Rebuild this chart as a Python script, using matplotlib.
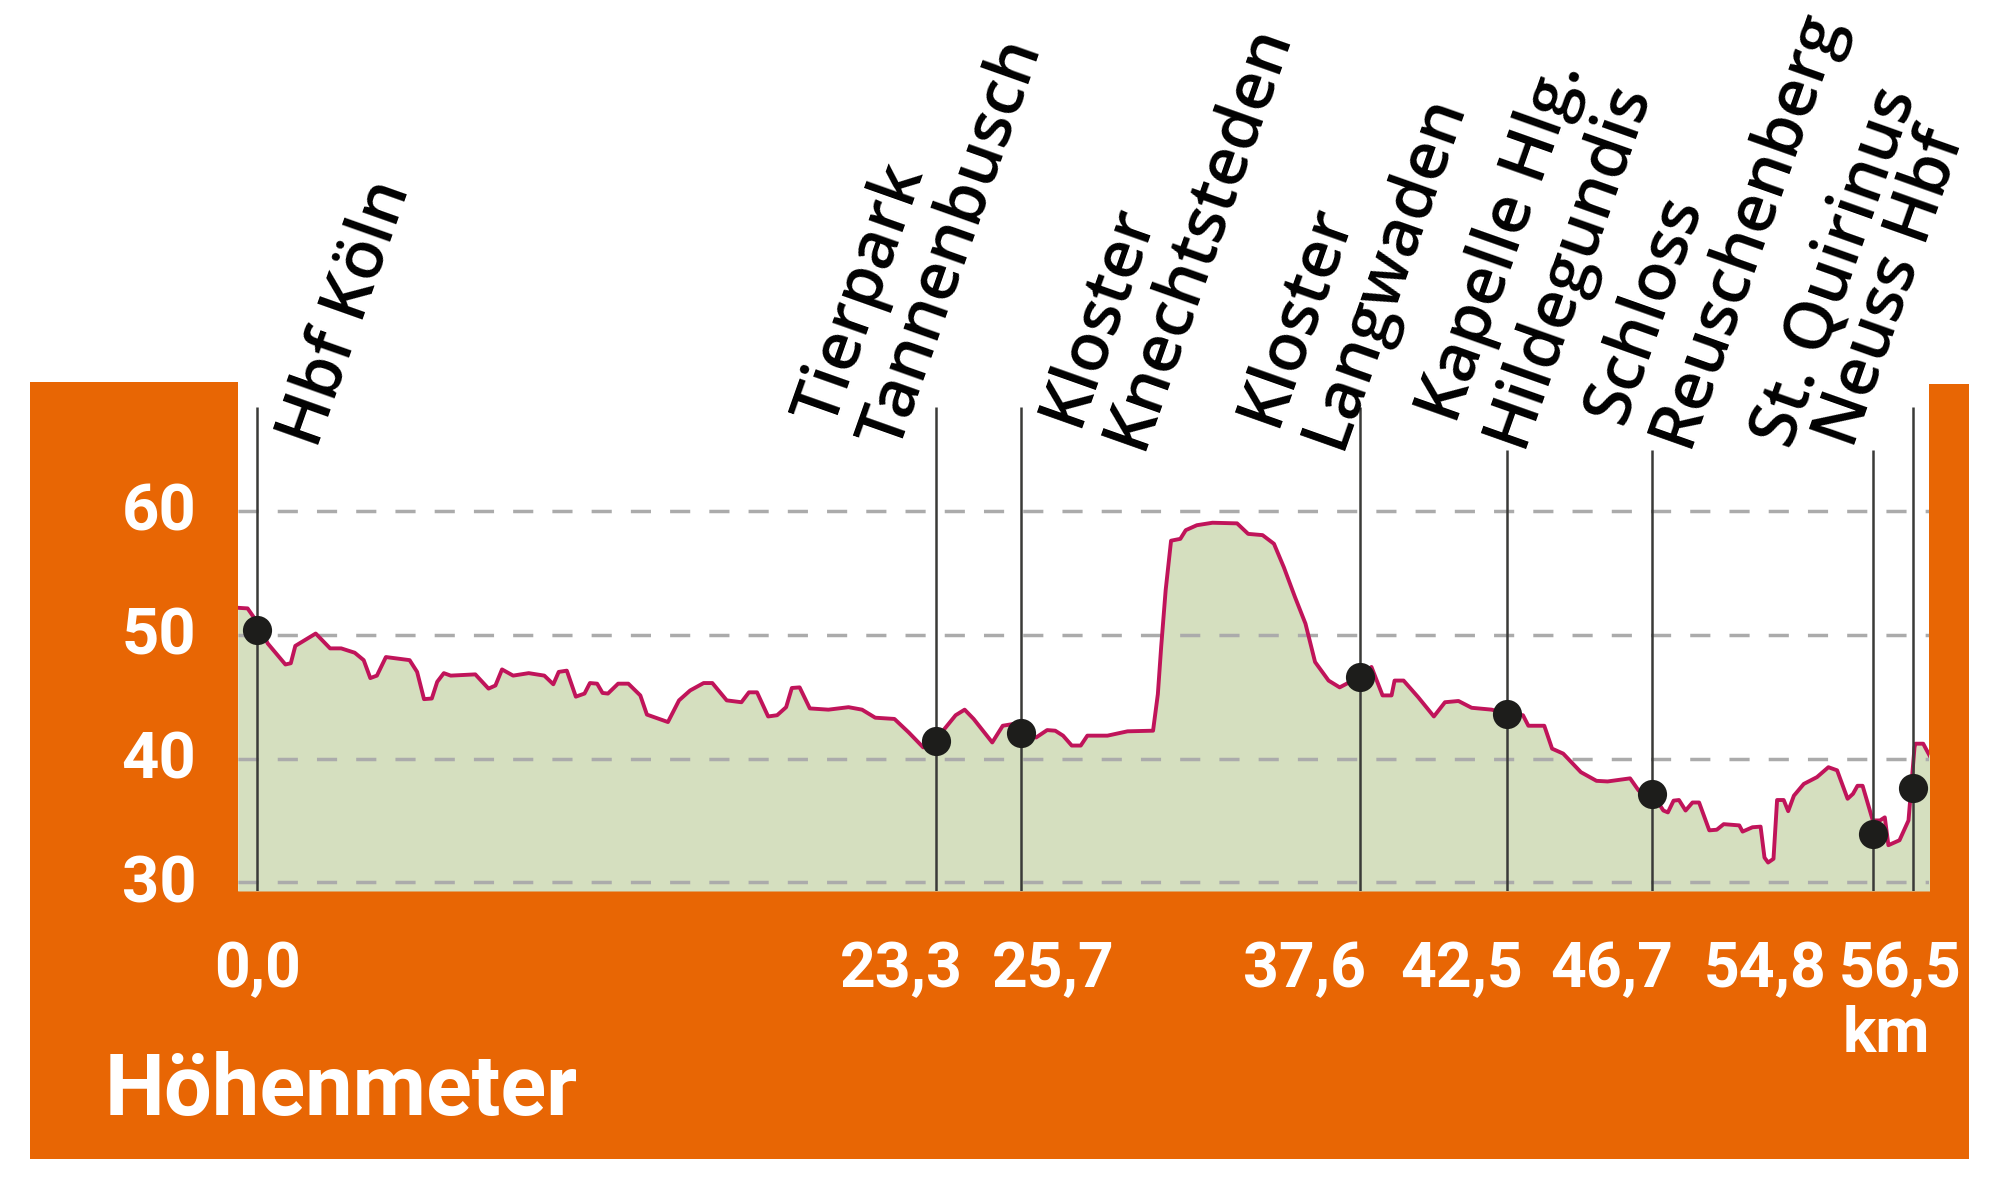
import matplotlib
matplotlib.use("Agg")
import matplotlib.pyplot as plt
from matplotlib.patches import Rectangle
from matplotlib.transforms import ScaledTranslation

# profile: position along the drawing, height in m
profile_x = [-0.64, -0.31, 0.0, 0.36, 0.95, 1.13, 1.28, 1.96, 2.44, 2.81, 3.26, 3.56, 3.78, 4.0, 4.3,
             5.09, 5.34, 5.57, 5.83, 6.01, 6.23, 6.46, 7.28, 7.72, 7.95, 8.17, 8.54, 9.06, 9.58, 9.88,
             10.06, 10.33, 10.63, 10.92, 11.1, 11.34, 11.52, 11.7, 12.04, 12.38, 12.78, 13.0, 13.7, 14.07,
             14.44, 14.89, 15.18, 15.66, 16.15, 16.4, 16.67, 17.04, 17.34, 17.64, 17.83, 18.09, 18.43, 19.05,
             19.72, 20.17, 20.61, 21.25, 21.73, 22.21, 22.62, 22.92, 23.29, 23.59, 23.89, 24.51, 24.86, 25.23,
             25.48, 25.97, 26.34, 26.61, 26.87, 27.16, 27.46, 27.68, 28.35, 29.02, 29.87, 30.03, 30.14, 30.29,
             30.47, 30.78, 30.96, 31.33, 31.85, 32.67, 33.04, 33.52, 33.9, 34.23, 34.6, 34.95, 35.27, 35.72,
             36.09, 36.76, 37.15, 37.52, 37.82, 37.92, 38.22, 38.71, 39.23, 39.6, 40.05, 40.49, 41.16, 41.66,
             42.2, 42.38, 42.91, 43.17, 43.54, 44.13, 44.65, 45.02, 45.77, 46.06, 46.51, 46.88, 47.03, 47.22,
             47.4, 47.62, 47.85, 48.07, 48.41, 48.66, 48.89, 49.41, 49.52, 49.85, 50.12, 50.25, 50.37, 50.55,
             50.67, 50.89, 51.04, 51.23, 51.56, 52.0, 52.38, 52.67, 53.02, 53.2, 53.35, 53.52, 53.86, 54.1,
             54.26, 54.38, 54.75, 55.05, 55.25, 55.28, 55.54, 55.75]
profile_h = [52.18, 52.13, 51.05, 49.3, 47.6, 47.7, 49.1, 50.1, 48.9, 48.9, 48.55, 47.95, 46.5, 46.7, 48.2,
             47.95, 47.0, 44.8, 44.85, 46.2, 46.9, 46.7, 46.8, 45.65, 45.9, 47.2, 46.7, 46.9, 46.7, 46.0,
             47.0, 47.1, 45.0, 45.25, 46.1, 46.05, 45.3, 45.25, 46.05, 46.05, 45.1, 43.55, 42.95, 44.7,
             45.5, 46.1, 46.1, 44.7, 44.55, 45.35, 45.35, 43.4, 43.5, 44.15, 45.7, 45.75, 44.05, 43.95,
             44.15, 43.95, 43.3, 43.2, 42.1, 40.9, 41.45, 42.4, 43.5, 43.95, 43.2, 41.3, 42.65, 42.8,
             42.1, 41.7, 42.3, 42.25, 41.85, 41.05, 41.05, 41.85, 41.85, 42.2, 42.25, 45.2, 49.0, 53.6,
             57.6, 57.75, 58.45, 58.85, 59.05, 59.0, 58.15, 58.05, 57.35, 55.45, 53.05, 50.9, 47.8, 46.3,
             45.75, 46.6, 47.4, 45.1, 45.1, 46.3, 46.3, 44.95, 43.4, 44.55, 44.65, 44.1, 43.95, 43.6,
             43.5, 42.65, 42.65, 40.8, 40.4, 38.9, 38.2, 38.15, 38.4, 37.4, 37.15, 35.8, 35.65, 36.6,
             36.65, 35.8, 36.45, 36.45, 34.2, 34.25, 34.7, 34.6, 34.1, 34.45, 34.5, 32.0, 31.6, 31.9,
             36.65, 36.65, 35.75, 37.0, 37.95, 38.5, 39.3, 39.05, 36.75, 37.15, 37.8, 37.8, 35.0, 35.0,
             35.25, 33.0, 33.4, 35.0, 40.9, 41.2, 41.2, 40.25]

stop_names = ["Hbf Köln", "Tierpark\nTannenbusch", "Kloster\nKnechtsteden", "Kloster\nLangwaden",
              "Kapelle Hlg.\nHildegundis", "Schloss\nReuschenberg", "St. Quirinus", "Neuss Hbf"]
stop_x = [0.0, 22.63, 25.47, 36.77, 41.67, 46.5, 53.87, 55.2]
stop_h = [50.4, 41.45, 42.1, 46.6, 43.6, 37.15, 33.9, 37.6]
stop_km = ["0,0", "23,3", "25,7", "37,6", "42,5", "46,7", "54,8", "56,5"]
height_ticks = [30, 40, 50, 60]

ORANGE = "#E86604"
GREEN = "#D5DFBF"
MAGENTA = "#C0145A"
DARK = "#1D1D1B"

W, H = 1999, 1190
fig = plt.figure(figsize=(W / 100, H / 100), dpi=100, facecolor="white")


# orange frame, given in image pixels
def band(x0, y0, x1, y1):
    fig.add_artist(Rectangle((x0 / W, 1 - y1 / H), (x1 - x0) / W, (y1 - y0) / H,
                             transform=fig.transFigure, color=ORANGE, lw=0, zorder=-1))


band(30, 382, 238, 1159)
band(30, 891, 1969, 1159)
band(1929.5, 384, 1969, 1159)

ax = fig.add_axes([238 / W, 1 - 891 / H, 1691.5 / W, 509 / H])
ax.patch.set_alpha(0)
ax.set_xlim(-0.63, 55.75)
ax.set_ylim(29.3, 70.42)
for s in ax.spines.values():
    s.set_visible(False)

ax.fill_between(profile_x, profile_h, 29.3, color=GREEN, lw=0, zorder=1)
ax.plot(profile_x, profile_h, color=MAGENTA, lw=2.8, zorder=2, solid_joinstyle="round")

ax.set_xticks([])
ax.set_yticks(height_ticks)
ax.set_yticklabels([str(v) for v in height_ticks], family="Roboto", weight="bold", size=47, color="white")
ax.tick_params(axis="y", length=0, pad=30)
for lab in ax.get_yticklabels():
    lab.set_transform(lab.get_transform() + ScaledTranslation(0, 3 / 72, fig.dpi_scale_trans))
ax.grid(axis="y", color="#ABABAB", lw=2.5, ls=(0, (5.8, 5.5)))

# station lines, three of them stop lower because of the labels
line_top = [68.4, 68.4, 68.4, 68.4, 64.93, 64.93, 64.93, 68.4]
ax.vlines(stop_x, 29.3, line_top, color="#3A3A38", lw=1.8, zorder=3)
ax.plot(stop_x, stop_h, "o", color=DARK, ms=21, mew=0, zorder=4)

# station names
name_x = [2.0, 21.3, 29.4, 36.03, 42.07, 47.6, 51.1, 53.2]
name_y = [64.9, 64.9, 64.9, 64.9, 65.1, 65.1, 64.95, 64.9]
for name, x, y in zip(stop_names, name_x, name_y):
    ax.text(x, y, name, rotation=70.5, rotation_mode="anchor", ha="left", va="baseline",
            family="Open Sans", weight="semibold", size=48, color="black", linespacing=1.03,
            clip_on=False)

# km labels sit beside their lines where it gets tight
km_label_x = [0.03, 21.47, 26.53, 34.93, 40.17, 45.17, 50.27, 54.77]
for label, x in zip(stop_km, km_label_x):
    ax.text(x, 21.55, label, ha="center", va="baseline", family="Roboto", weight="bold", size=45, color="white")
ax.text(54.3, 16.3, "km", ha="center", va="baseline", family="Roboto", weight="bold", size=45, color="white")
ax.text(-5.07, 11.2, "Höhenmeter", ha="left", va="baseline", family="Roboto", weight="bold", size=61, color="white")

fig.savefig("out.png", dpi=100)
